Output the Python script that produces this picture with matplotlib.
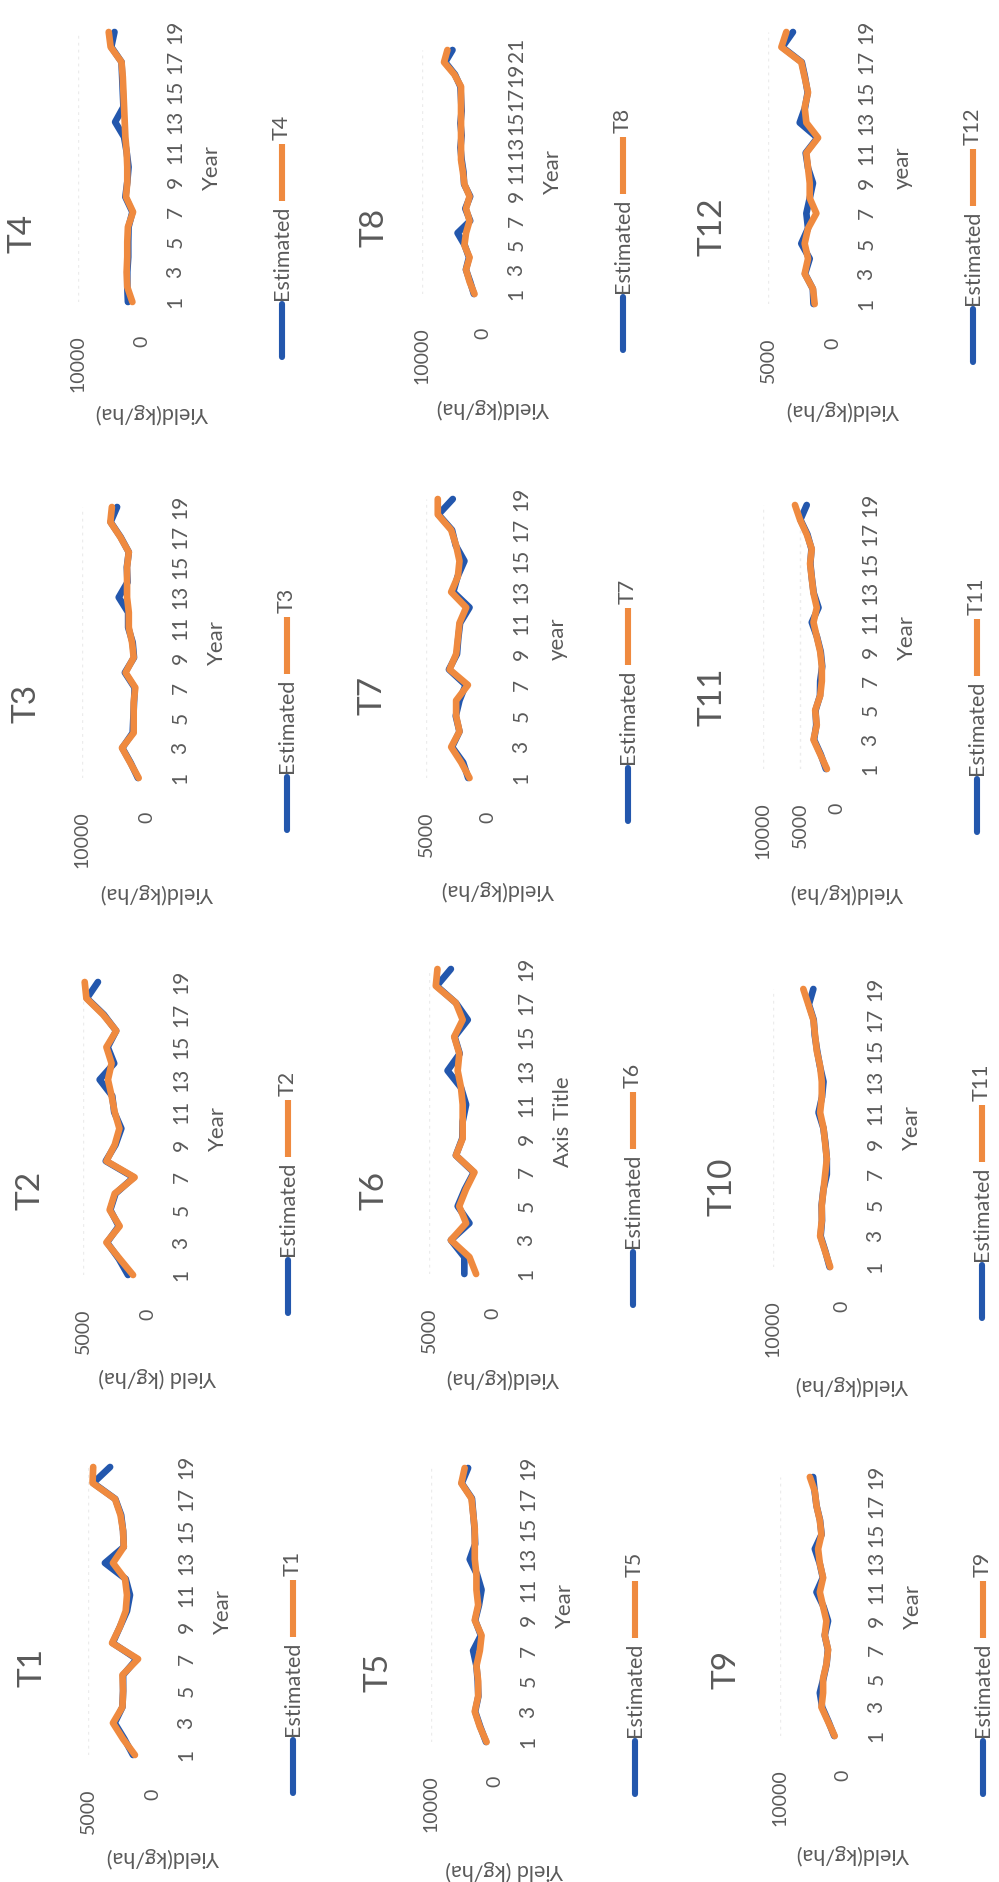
import matplotlib.pyplot as plt
from matplotlib.lines import Line2D

W, H = 999, 1882

# ---- data (yield kg/ha per year) ----
est_t1 = [1540, 2200, 2950, 2350, 2300, 2300, 1250, 3100, 2550, 2000, 1770, 2100, 3700, 2250, 2300, 2450, 2900, 4600, 3300]
obs_t1 = [1390, 2300, 3080, 2350, 2300, 2350, 1150, 3150, 2550, 2100, 2000, 2150, 3080, 2250, 2300, 2500, 2920, 4650, 4600]
est_t2 = [1540, 2250, 3150, 2250, 2900, 2500, 1100, 3250, 2500, 2050, 2600, 2750, 3720, 2600, 3100, 2450, 3400, 4700, 3850]
obs_t2 = [1150, 2180, 3200, 2180, 2950, 2560, 1030, 3200, 2560, 2200, 2560, 2800, 3080, 2800, 3200, 2440, 3460, 4740, 4870]
est_t3 = [1400, 2500, 3800, 2200, 2100, 2000, 1900, 3400, 2000, 2200, 2900, 2900, 4350, 3000, 3100, 2800, 4050, 5600, 4600]
obs_t3 = [1280, 2560, 3850, 2050, 2050, 2050, 1800, 3300, 2050, 2300, 2800, 2800, 3070, 3070, 3070, 2800, 4100, 5640, 5400]
est_t4 = [2200, 2300, 2300, 2150, 2150, 2100, 1500, 2600, 2300, 2100, 2400, 2800, 4200, 2900, 3000, 3100, 3200, 4800, 4300]
obs_t4 = [1500, 2300, 2400, 2300, 2300, 2200, 1400, 2500, 2300, 2300, 2400, 2600, 2700, 2800, 2900, 3000, 3200, 4900, 5200]
est_t5 = [1400, 2300, 3100, 2600, 2700, 2900, 3420, 2200, 3100, 2500, 2100, 2800, 3950, 3100, 3200, 3400, 3600, 5200, 4200]
obs_t5 = [1320, 2370, 3160, 2630, 2630, 2900, 2370, 2100, 3160, 2630, 2900, 2900, 3160, 3160, 3160, 3420, 3680, 5260, 4740]
est_t6 = [2240, 2240, 3290, 1840, 2760, 2200, 1500, 2900, 2400, 2370, 2100, 2500, 3550, 2600, 3000, 1970, 2900, 4400, 3290]
obs_t6 = [1320, 1840, 3290, 2100, 2640, 2110, 1450, 2900, 2370, 2370, 2370, 2500, 2760, 2630, 3030, 2370, 2900, 4470, 4340]
est_t7 = [1600, 2000, 2900, 2300, 2600, 2300, 1800, 3150, 2500, 2400, 2250, 1490, 2800, 2450, 1900, 2600, 2900, 4000, 2840]
obs_t7 = [1490, 2160, 2970, 2300, 2570, 2570, 1620, 3100, 2570, 2430, 2300, 1760, 2970, 2430, 2300, 2570, 2970, 4050, 4050]
est_t8 = [1500, 2100, 2800, 2300, 3000, 4170, 2100, 2900, 2100, 3100, 3200, 3500, 3700, 3500, 3700, 3500, 3600, 3700, 4600, 6200, 5000]
obs_t8 = [1390, 2200, 2780, 2200, 3050, 2780, 2200, 2780, 2200, 3050, 3300, 3600, 3600, 3600, 3600, 3600, 3600, 3600, 4700, 6390, 5830]
est_t9 = [1400, 2300, 3300, 3680, 3100, 2600, 2400, 2900, 2370, 3100, 4210, 3200, 3700, 4470, 3400, 3650, 4200, 4500, 4740]
obs_t9 = [1320, 2370, 3420, 3160, 3160, 2630, 2370, 2900, 2630, 3160, 3680, 3160, 3680, 3950, 3420, 3680, 4210, 4470, 5260]
est_t10 = [1800, 2400, 3100, 2900, 2950, 2700, 2200, 2200, 2400, 2700, 3400, 2900, 2680, 3200, 3600, 3950, 4100, 4800, 4150]
obs_t10 = [1710, 2440, 3170, 2930, 2930, 2680, 2440, 2200, 2440, 2680, 3170, 2930, 2930, 3170, 3660, 3900, 4150, 4880, 5610]
est_t11 = [1500, 2200, 3100, 2800, 2900, 2300, 2270, 2000, 2200, 2700, 3410, 2500, 3150, 3400, 3600, 3450, 4000, 4950, 4090]
obs_t11 = [1360, 2270, 3180, 2730, 2950, 2270, 2050, 2050, 2270, 2730, 3180, 2730, 3180, 3410, 3640, 3410, 4090, 5000, 5680]
est_t12 = [1500, 1550, 2150, 1790, 2440, 1920, 2050, 1790, 1540, 1920, 2100, 1200, 2560, 2150, 1950, 2150, 2400, 3900, 3080]
obs_t12 = [1410, 1540, 2180, 1920, 2180, 1920, 1280, 1790, 1790, 1920, 2050, 1150, 2050, 2180, 1920, 2180, 2440, 3970, 3590]

panels = ['T1', 'T2', 'T3', 'T4', 'T5', 'T6', 'T7', 'T8', 'T9', 'T10', 'T11', 'T12']
estimated = [est_t1, est_t2, est_t3, est_t4, est_t5, est_t6, est_t7, est_t8, est_t9, est_t10, est_t11, est_t12]
observed = [obs_t1, obs_t2, obs_t3, obs_t4, obs_t5, obs_t6, obs_t7, obs_t8, obs_t9, obs_t10, obs_t11, obs_t12]
legend_names = ['T1', 'T2', 'T3', 'T4', 'T5', 'T6', 'T7', 'T8', 'T9', 'T11', 'T11', 'T12']
x_titles = ['Year', 'Year', 'Year', 'Year', 'Year', 'Axis Title', 'year', 'Year', 'Year', 'Year', 'Year', 'year']
y_titles = ['Yield(kg/ha)', 'Yield (kg/ha)', 'Yield(kg/ha)', 'Yield(kg/ha)', 'Yield (kg/ha)', 'Yield(kg/ha)',
            'Yield(kg/ha)', 'Yield(kg/ha)', 'Yield(kg/ha)', 'Yield(kg/ha)', 'Yield(kg/ha)', 'Yield(kg/ha)']
y_max = [5000, 5000, 10000, 10000, 10000, 5000, 5000, 10000, 10000, 10000, 10000, 5000]
y_step = [5000, 5000, 10000, 10000, 10000, 5000, 5000, 10000, 10000, 10000, 5000, 5000]

# ---- layout: the sheet was photographed sideways, so every chart is turned 90 deg ----
# (x at max yield, x at zero yield, y of first year, y of last year), image pixels
plot_box = {
    'T4': (78, 142, 302, 32), 'T3': (82, 147, 778, 507), 'T2': (83, 148, 1275, 982), 'T1': (88, 153, 1755, 1467),
    'T8': (422, 483, 294, 50), 'T7': (426, 488, 778, 499), 'T6': (429, 493, 1274, 969), 'T5': (431, 495, 1742, 1468),
    'T12': (768, 833, 304, 32), 'T11': (763, 837, 769, 505), 'T10': (773, 842, 1267, 989), 'T9': (780, 843, 1736, 1477),
}
title_pos = {
    'T4': (22, 233), 'T3': (27, 703), 'T2': (30, 1190), 'T1': (33, 1667),
    'T8': (374, 227), 'T7': (372, 695), 'T6': (374, 1190), 'T5': (379, 1672),
    'T12': (713, 227), 'T11': (712, 697), 'T10': (722, 1187), 'T9': (727, 1669),
}
legend_y = {'T4': 357, 'T3': 830, 'T2': 1313, 'T1': 1793, 'T8': 350, 'T7': 821, 'T6': 1305, 'T5': 1794,
            'T12': 362, 'T11': 832, 'T10': 1318, 'T9': 1794}
ylab_y = {'T4': 413, 'T3': 893, 'T2': 1377, 'T1': 1857, 'T8': 408, 'T7': 890, 'T6': 1378, 'T5': 1870,
          'T12': 410, 'T11': 893, 'T10': 1385, 'T9': 1854}

blue = '#2357ad'
orange = '#ef8a3f'
grey = '#5a5a5a'

plt.rcParams['font.family'] = ['Lato', 'DejaVu Sans']

fig = plt.figure(figsize=(W / 100, H / 100), dpi=100)
fig.patch.set_facecolor('white')
renderer = fig.canvas.get_renderer()


def fx(x):
    return x / W


def fy(y):
    return 1 - y / H


for i, name in enumerate(panels):
    xm, x0, y1, yn = plot_box[name]
    est = estimated[i]
    obs = observed[i]
    yrs = list(range(1, len(est) + 1))

    ax = fig.add_axes([fx(xm), fy(y1), (x0 - xm) / W, (y1 - yn) / H])
    for g in range(y_step[i], y_max[i] + 1, y_step[i]):
        ax.axvline(g, color='#ececec', lw=1, ls=(0, (2, 3)), zorder=0)
    ax.plot(est, yrs, color=blue, lw=4.8, clip_on=False, solid_joinstyle='round', solid_capstyle='round')
    ax.plot(obs, yrs, color=orange, lw=4.8, clip_on=False, solid_joinstyle='round', solid_capstyle='round')
    ax.set_xlim(y_max[i], 0)
    ax.set_ylim(1, len(est))
    ax.set_xticks(list(range(0, y_max[i] + 1, y_step[i])))
    ax.set_xticklabels([str(v) for v in range(0, y_max[i] + 1, y_step[i])])
    ax.yaxis.tick_right()
    ax.set_yticks(yrs[::2])
    ax.set_yticklabels([str(v) for v in yrs[::2]])
    ax.tick_params(axis='x', length=0, pad=24, labelsize=14, labelcolor=grey, labelrotation=90)
    ax.tick_params(axis='y', length=0, pad=17, labelsize=15, labelcolor=grey, labelrotation=90)
    for lab in ax.get_yticklabels():
        lab.set_va('center')
    for s in ax.spines.values():
        s.set_visible(False)
    ax.set_facecolor('none')

    tx, ty = title_pos[name]
    fig.text(fx(tx), fy(ty), name, rotation=90, ha='center', va='center', fontsize=24, color=grey)
    fig.text(fx(x0 + 70), fy((y1 + yn) / 2), x_titles[i], rotation=90, ha='center', va='center',
             fontsize=16, color=grey)
    fig.text(fx(x0 + 10), fy(ylab_y[name]), y_titles[i], rotation=180, ha='center', va='center',
             fontsize=15.5, color=grey)

    # legend, drawn by hand because the chart is on its side
    lx = x0 + 140
    ly = legend_y[name]
    fig.add_artist(Line2D([fx(lx), fx(lx)], [fy(ly), fy(ly - 53)], transform=fig.transFigure,
                          color=blue, lw=4.4, solid_capstyle='round'))
    t1 = fig.text(fx(lx), fy(ly - 57), 'Estimated', rotation=90, ha='center', va='bottom',
                  fontsize=15.5, color=grey)
    top = H - t1.get_window_extent(renderer).y1
    fig.add_artist(Line2D([fx(lx), fx(lx)], [fy(top - 5), fy(top - 62)], transform=fig.transFigure,
                          color=orange, lw=4.4, solid_capstyle='butt'))
    fig.text(fx(lx), fy(top - 66), legend_names[i], rotation=90, ha='center', va='bottom',
             fontsize=15.5, color=grey)

fig.savefig('out.png', dpi=100)
